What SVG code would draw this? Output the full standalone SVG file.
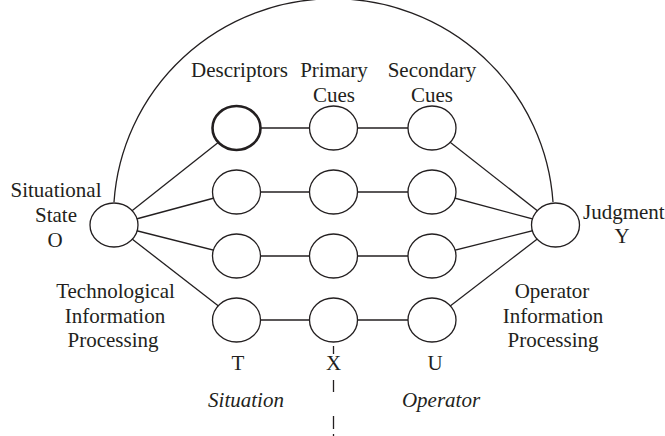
<svg xmlns="http://www.w3.org/2000/svg" width="665" height="436" viewBox="0 0 665 436">
<style>
text{font-family:"Liberation Serif","Times New Roman",serif;font-size:21px;fill:#231f20;text-anchor:middle}
.it{font-style:italic}
.node{fill:#fff;stroke:#231f20;stroke-width:1.3}
.thick{stroke-width:2.6}
.conn line,.conn path{stroke:#231f20;stroke-width:1.3;fill:none}
</style>
<rect width="665" height="436" fill="#fff"/>
<g id="connectors" class="conn">
<path d="M114 202 A220 218 0 0 1 553 202"/>
<line x1="114" y1="225" x2="236.5" y2="128"/>
<line x1="114" y1="225" x2="236.5" y2="192"/>
<line x1="114" y1="225" x2="236.5" y2="256"/>
<line x1="114" y1="225" x2="236.5" y2="320"/>
<line x1="555.5" y1="225" x2="432" y2="128"/>
<line x1="555.5" y1="225" x2="432" y2="192"/>
<line x1="555.5" y1="225" x2="432" y2="256"/>
<line x1="555.5" y1="225" x2="432" y2="320"/>
<line x1="236.5" y1="128" x2="432" y2="128"/>
<line x1="236.5" y1="192" x2="432" y2="192"/>
<line x1="236.5" y1="256" x2="432" y2="256"/>
<line x1="236.5" y1="320" x2="432" y2="320"/>
<path d="M333.5 346V354M333.5 380V392M333.5 416V429M333.5 434V436"/>
</g>
<g id="situational-state">
<ellipse class="node" cx="114" cy="225" rx="24" ry="22"/>
<text x="56" y="197">Situational</text>
<text x="56" y="222">State</text>
<text x="55" y="247">O</text>
</g>
<g id="judgment">
<ellipse class="node" cx="555.5" cy="225" rx="24" ry="22"/>
<text x="583" y="219" style="text-anchor:start">Judgment</text>
<text x="622" y="243">Y</text>
</g>
<g id="descriptors-1"><ellipse class="node thick" cx="236.5" cy="128" rx="24" ry="22"/></g>
<g id="descriptors-2"><ellipse class="node" cx="236.5" cy="192" rx="24" ry="22"/></g>
<g id="descriptors-3"><ellipse class="node" cx="236.5" cy="256" rx="24" ry="22"/></g>
<g id="descriptors-4"><ellipse class="node" cx="236.5" cy="320" rx="24" ry="22"/></g>
<g id="primary-1"><ellipse class="node" cx="333.5" cy="128" rx="24" ry="22"/></g>
<g id="primary-2"><ellipse class="node" cx="333.5" cy="192" rx="24" ry="22"/></g>
<g id="primary-3"><ellipse class="node" cx="333.5" cy="256" rx="24" ry="22"/></g>
<g id="primary-4"><ellipse class="node" cx="333.5" cy="320" rx="24" ry="22"/></g>
<g id="secondary-1"><ellipse class="node" cx="432" cy="128" rx="24" ry="22"/></g>
<g id="secondary-2"><ellipse class="node" cx="432" cy="192" rx="24" ry="22"/></g>
<g id="secondary-3"><ellipse class="node" cx="432" cy="256" rx="24" ry="22"/></g>
<g id="secondary-4"><ellipse class="node" cx="432" cy="320" rx="24" ry="22"/></g>
<g id="labels">
<text x="239.5" y="77">Descriptors</text>
<text x="334" y="77">Primary</text>
<text x="334" y="102">Cues</text>
<text x="432" y="77">Secondary</text>
<text x="432" y="102">Cues</text>
<text x="115.5" y="298">Technological</text>
<text x="115" y="323">Information</text>
<text x="113" y="347">Processing</text>
<text x="552" y="298">Operator</text>
<text x="553" y="323">Information</text>
<text x="553" y="347">Processing</text>
<text x="238" y="370">T</text>
<text x="333.5" y="370">X</text>
<text x="435" y="370">U</text>
<text class="it" x="246" y="407">Situation</text>
<text class="it" x="441" y="407">Operator</text>
</g>
</svg>
